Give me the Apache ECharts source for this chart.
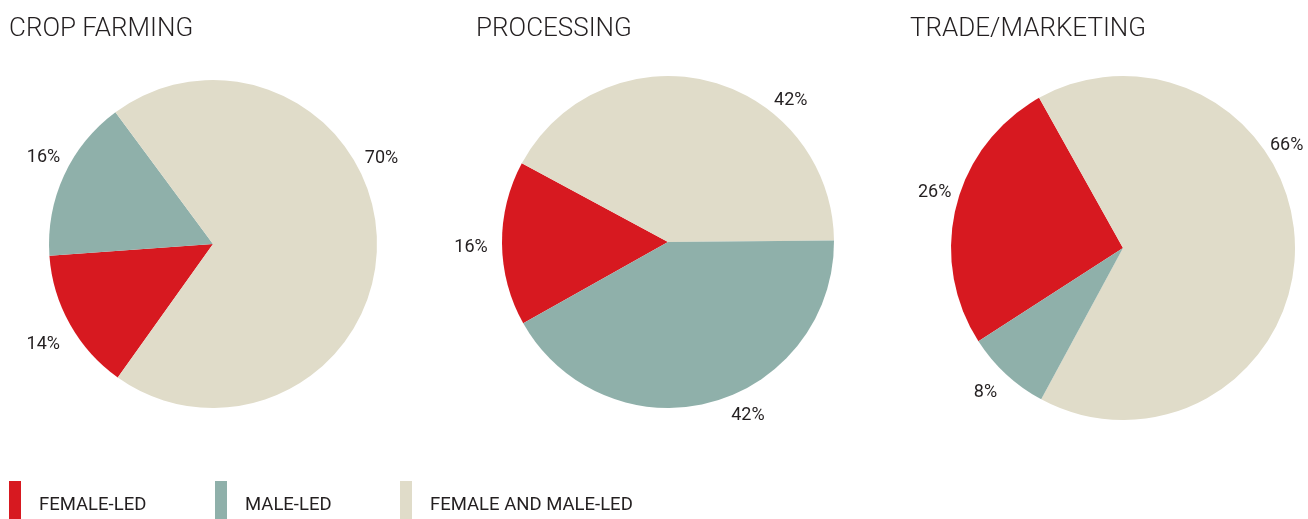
<!DOCTYPE html>
<html>
<head>
<meta charset="utf-8">
<script src="https://cdn.jsdelivr.net/npm/echarts@6/dist/echarts.min.js"></script>
<style>
  html, body { margin: 0; padding: 0; background: #ffffff; }
  #chart { width: 1308px; height: 519px; }
</style>
</head>
<body>
<div id="chart"></div>
<script>
// ---- data ----
var categories = ['FEMALE-LED', 'MALE-LED', 'FEMALE AND MALE-LED'];
var panelTitles = ['CROP FARMING', 'PROCESSING', 'TRADE/MARKETING'];
var cropFarming = [14, 16, 70];      // female, male, both (%)
var processing = [16, 42, 42];
var tradeMarketing = [26, 8, 66];

// ---- styling / layout ----
var colors = ['#D71920', '#8FB0AA', '#E0DCC9'];
var FONT = 'Roboto, "Liberation Sans", sans-serif';
var TEXT = '#231f20';
// label placement per category: [angle in degrees, distance from centre]
var panels = [
  { values: cropFarming,    center: [213, 244],  radius: 164, order: [0, 1, 2], start: 234.5, titleLeft: 9,
    labelPlace: { 0: [210, 196], 1: [152.5, 191], 2: [27.5, 190] } },
  { values: processing,     center: [668, 242],  radius: 166, order: [0, 2, 1], start: 209.3, titleLeft: 476,
    labelPlace: { 0: [181, 197], 1: [-65, 189], 2: [49.5, 189] } },
  { values: tradeMarketing, center: [1123, 248], radius: 172, order: [0, 2, 1], start: 212.8, titleLeft: 910,
    labelPlace: { 0: [163, 197], 1: [226, 198], 2: [32.5, 194] } }
];
var legendLefts = [9, 215, 400];
var labelBaselineShift = 2;

var chart = echarts.init(document.getElementById('chart'), null, { renderer: 'canvas' });

function labelPos(p, catIdx) {
  var pl = p.labelPlace[catIdx];
  var rad = pl[0] * Math.PI / 180;
  return [p.center[0] + pl[1] * Math.cos(rad), p.center[1] - pl[1] * Math.sin(rad) + labelBaselineShift];
}

var series = panels.map(function (p, si) {
  return {
    type: 'pie',
    center: p.center,
    radius: [0, p.radius],
    startAngle: p.start,
    clockwise: true,
    silent: true,
    avoidLabelOverlap: false,
    itemStyle: { borderWidth: 0 },
    label: {
      show: true,
      position: 'outside',
      formatter: '{c}%',
      color: TEXT,
      fontFamily: FONT,
      fontSize: 18,
      fontWeight: 400
    },
    labelLine: { show: false },
    labelLayout: function (params) {
      var d = p.order[params.dataIndex];
      var pos = labelPos(p, d);
      return { x: pos[0], y: pos[1], align: 'center', verticalAlign: 'middle' };
    },
    data: p.order.map(function (c) {
      return { name: categories[c], value: p.values[c], itemStyle: { color: colors[c] } };
    })
  };
});

var option = {
  animation: false,
  backgroundColor: '#ffffff',
  color: colors,
  title: panels.map(function (p, i) {
    return {
      text: panelTitles[i],
      left: p.titleLeft,
      top: 16,
      padding: 0,
      textStyle: { fontFamily: FONT, fontSize: 26, fontWeight: 300, color: TEXT }
    };
  }),
  legend: categories.map(function (c, i) {
    return {
      data: [c],
      left: legendLefts[i],
      top: 481,
      padding: 0,
      icon: 'rect',
      itemWidth: 12,
      itemHeight: 48,
      selectedMode: false,
      textStyle: { fontFamily: FONT, fontSize: 18.5, color: TEXT, padding: [0, 0, 0, 13] }
    };
  }),
  series: series
};
chart.setOption(option);
</script>
</body>
</html>
